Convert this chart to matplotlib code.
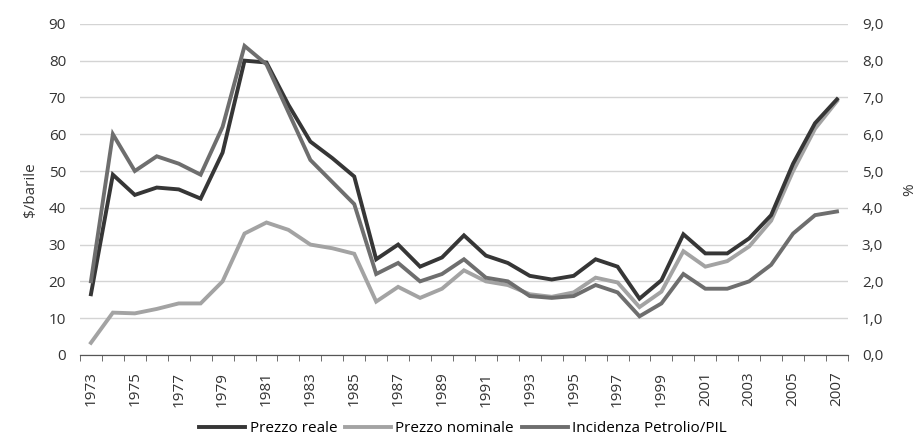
import matplotlib
matplotlib.use("Agg")
import matplotlib.pyplot as plt
import numpy as np
from matplotlib.ticker import FuncFormatter, MultipleLocator
from matplotlib.lines import Line2D

years = list(range(1973, 2008))
prezzo_reale = [16.5, 49, 43.5, 45.5, 45, 42.5, 55, 80, 79.5, 68, 58, 53.5, 48.5,
                26, 30, 24, 26.5, 32.5, 27, 25, 21.5, 20.5, 21.5, 26, 24, 15.3,
                20.3, 32.8, 27.6, 27.6, 31.7, 38, 52, 63, 69.5]
prezzo_nominale = [3.3, 11.5, 11.3, 12.5, 14, 14, 20, 33, 36, 34, 30, 29, 27.5,
                   14.5, 18.5, 15.5, 18, 23, 20, 19, 16.5, 15.8, 17, 21, 19.7, 13,
                   17.2, 28.2, 24, 25.5, 29.5, 36.5, 50, 61.5, 69]
incidenza_pil = [2.0, 6.0, 5.0, 5.4, 5.2, 4.9, 6.2, 8.4, 7.9, 6.6, 5.3, 4.7, 4.1,
                 2.2, 2.5, 2.0, 2.2, 2.6, 2.1, 2.0, 1.6, 1.55, 1.6, 1.9, 1.7, 1.05,
                 1.4, 2.2, 1.8, 1.8, 2.0, 2.45, 3.3, 3.8, 3.9]
label_years = list(range(1973, 2008, 2))

c_dark = "#363636"
c_light = "#a3a3a3"
c_mid = "#6e6e6e"
plt.rcParams['font.family'] = ['Open Sans', 'DejaVu Sans']
fs = 11

fig = plt.figure(figsize=(9.17, 4.42), dpi=100)
ax = fig.add_axes([0.0872, 0.197, 0.8375, 0.749])
ax2 = ax.twinx()

ax.plot(years, prezzo_reale, color=c_dark, lw=2.8, solid_joinstyle='miter', zorder=3)
ax.plot(years, prezzo_nominale, color=c_light, lw=2.8, solid_joinstyle='miter', zorder=2)
ax2.plot(years, incidenza_pil, color=c_mid, lw=2.8, solid_joinstyle='miter', zorder=2)

ax.set_xlim(1972.5, 2007.5)
ax.set_ylim(0, 90)
ax2.set_ylim(0, 9)
ax.yaxis.set_major_locator(MultipleLocator(10))
ax2.yaxis.set_major_locator(MultipleLocator(1))
ax2.yaxis.set_major_formatter(FuncFormatter(lambda v, p: f"{v:.1f}".replace('.', ',')))

ax.set_xticks(label_years)
ax.set_xticklabels([str(y) for y in label_years], rotation=90)
ax.set_xticks(np.arange(1972.5, 2008, 1), minor=True)
ax.tick_params(axis='x', which='major', length=0, pad=12, labelsize=fs, colors='#333333')
ax.tick_params(axis='x', which='minor', length=4, color='#555555')
ax.tick_params(axis='y', length=0, pad=10, labelsize=fs, colors='#333333')
ax2.tick_params(axis='y', length=0, pad=10, labelsize=fs, colors='#333333')

ax.grid(axis='y', color='#d4d4d4', lw=1)
ax.set_axisbelow(True)
for a in (ax, ax2):
    for s in ('top', 'left', 'right'):
        a.spines[s].set_visible(False)
    a.spines['bottom'].set_color('#555555')

ax.set_ylabel("$/barile", fontsize=fs, color='#333333', labelpad=8)
ax2.set_ylabel("%", fontsize=fs, color='#333333', labelpad=14)

handles = [Line2D([], [], color=c_dark, lw=2.8),
           Line2D([], [], color=c_light, lw=2.8),
           Line2D([], [], color=c_mid, lw=2.8)]
fig.legend(handles, ["Prezzo reale", "Prezzo nominale", "Incidenza Petrolio/PIL"],
           loc='center', bbox_to_anchor=(0.505, 0.03), ncol=3, frameon=False,
           fontsize=fs, handlelength=3.0, handletextpad=0.3, columnspacing=0.5)

fig.savefig("out.png", dpi=100)
